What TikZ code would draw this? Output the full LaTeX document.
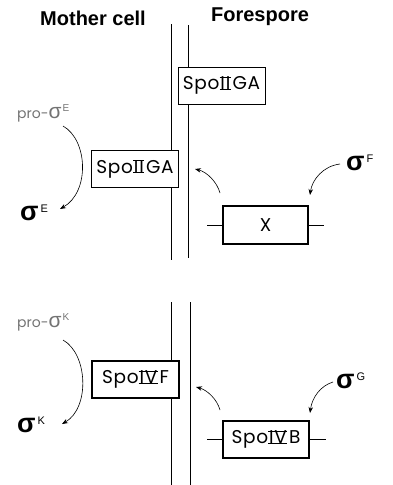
\documentclass[tikz,border=0pt]{standalone}
\usepackage{fontspec}
\setmainfont{Liberation Sans}
\newfontfamily\boxfont[LetterSpace=4]{Poppins}
\newfontfamily\profont{Poppins}
\usetikzlibrary{arrows.meta}
\newsavebox\rnbox
\newcommand\rn[1]{\sbox\rnbox{\kern0.05em#1\kern0.02em}\rlap{\rule[-0.01em]{\wd\rnbox}{0.07em}}\rlap{\rule[\dimexpr\ht\rnbox-0.06em\relax]{\wd\rnbox}{0.07em}}\usebox\rnbox\kern0.1em}
\newcommand\sig[1]{{\bfseries\fontsize{27}{27}\selectfont σ}\kern2pt\raisebox{8pt}{\fontsize{11}{11}\selectfont #1}}
\newcommand\prosig[1]{{\profont\fontsize{14}{14}\selectfont pro-}{\fontsize{21}{21}\selectfont σ}\kern1pt\raisebox{7pt}{\fontsize{10}{10}\selectfont #1}}
\tikzset{
  gene/.style={draw, line width=1.3pt, fill=white, minimum width=87pt, minimum height=37pt, inner sep=0pt, font=\boxfont\fontsize{18.5}{18.5}\selectfont},
  memb/.style={line width=0.8pt},
  lead/.style={line width=1pt},
  arr/.style={line width=0.6pt, -{Stealth[length=6pt,width=4.5pt]}},
  head/.style={font=\bfseries\fontsize{20}{20}\selectfont, inner sep=0pt},
  siglab/.style={inner sep=0pt, anchor=west},
  prolab/.style={inner sep=0pt, anchor=west, text=black!55},
}
\begin{document}
\begin{tikzpicture}[x=1pt,y=-1pt]
\useasboundingbox (0,0) rectangle (392,485);
% headings
\node[head] (mc) at (93,18) {Mother cell};
\node[head] (fs) at (260,17) {Forespore};
% membranes
\coordinate (m1a) at (171,24); \coordinate (m1b) at (171,260);
\coordinate (m2a) at (188,25); \coordinate (m2b) at (188,258);
\coordinate (m3a) at (171,302); \coordinate (m3b) at (171,485);
\coordinate (m4a) at (190,302); \coordinate (m4b) at (190,485);
\draw[memb] (m1a) -- (m1b);
\draw[memb] (m2a) -- (m2b);
\draw[memb] (m3a) -- (m3b);
\draw[memb] (m4a) -- (m4b);
% boxes
\node[gene, line width=0.8pt] (A) at (221.5,85.5) {Spo\rn{II}GA};
\node[gene] (B) at (135,169) {Spo\rn{II}GA};
\node[gene, minimum width=85pt, minimum height=38pt] (X) at (265.5,225) {X};
\node[gene] (F) at (135.5,379.5) {Spo\rn{IV}F};
\node[gene, minimum width=86pt] (G) at (266,439.5) {Spo\rn{IV}B};
% leads
\draw[lead] (X.west) -- +(-15,0);
\draw[lead] (X.east) -- +(15,0);
\draw[lead] (G.west) -- +(-15,0);
\draw[lead] (G.east) -- +(16,0);
% sigma labels
\node[siglab] (sF) at (346,163) {\sig{F}};
\node[siglab] (sE) at (20,213) {\sig{E}};
\node[siglab] (sG) at (336,381) {\sig{G}};
\node[siglab] (sK) at (17,425) {\sig{K}};
\node[prolab] (pE) at (17,113) {\prosig{E}};
\node[prolab] (pK) at (17,322) {\prosig{K}};
% arrows
\coordinate (fa) at (340,164); \coordinate (fb) at (310,195);
\draw[arr] (fa) .. controls (323,166) and (312,180) .. (fb);
\coordinate (xa) at (220,193); \coordinate (xb) at (195,169);
\draw[arr] (xa) .. controls (217,182) and (207,172) .. (xb);
\coordinate (ga) at (333,382); \coordinate (gb) at (310,413);
\draw[arr] (ga) .. controls (320,386) and (312,398) .. (gb);
\coordinate (ya) at (220,410); \coordinate (yb) at (196,387);
\draw[arr] (ya) .. controls (217,399) and (207,390) .. (yb);
\coordinate (ea) at (63,126); \coordinate (eb) at (60,209);
\draw[arr] (ea) .. controls (88,140) and (90,192) .. (eb);
\coordinate (ka) at (63,340); \coordinate (kb) at (62,424);
\draw[arr] (ka) .. controls (88,354) and (90,408) .. (kb);
\end{tikzpicture}
\end{document}
